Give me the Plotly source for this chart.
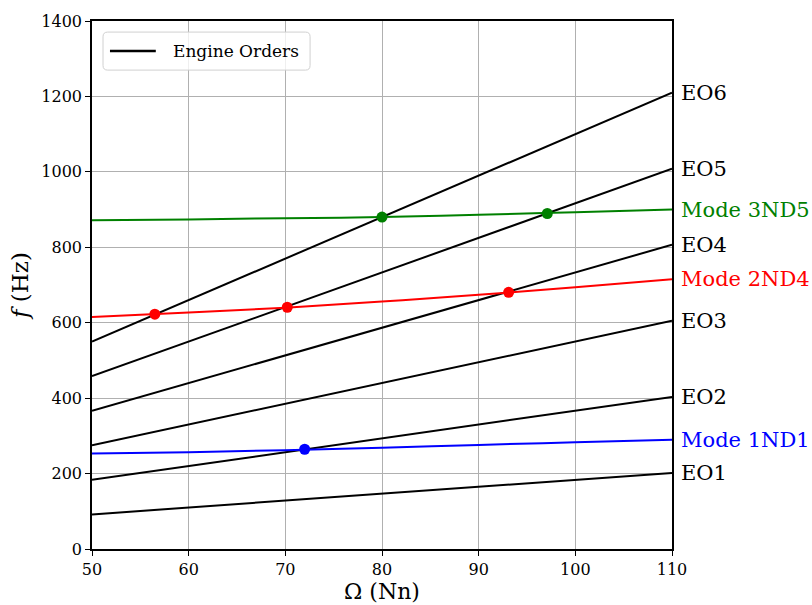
import plotly.graph_objects as go

# Engine order lines (frequency at Omega = 50 and 110)
eo_names = ["EO1", "EO2", "EO3", "EO4", "EO5", "EO6"]
eo_omega = [50, 110]
eo_start = [91.7, 183.3, 275.0, 366.7, 458.3, 550.0]
eo_end = [201.7, 403.3, 605.0, 806.7, 1008.3, 1210.0]

# Mode lines
mode_omega = [50, 60, 70, 80, 90, 100, 110]
mode_1nd1 = [253, 256.5, 262, 268.5, 276, 283, 290]
mode_2nd4 = [615, 627, 640, 656, 674, 694, 715]
mode_3nd5 = [872, 874, 877, 880, 886, 893, 900]

# Crossing points
cross_1nd1_x = [72.0]
cross_1nd1_y = [264.5]
cross_2nd4_x = [56.5, 70.2, 93.1]
cross_2nd4_y = [622.7, 641.0, 680.5]
cross_3nd5_x = [80.0, 97.1]
cross_3nd5_y = [880.0, 889.6]

legend_label = "Engine Orders"

FONT = "DejaVu Serif"

fig = go.Figure()

for i, name in enumerate(eo_names):
    fig.add_trace(go.Scatter(
        x=eo_omega, y=[eo_start[i], eo_end[i]], mode="lines",
        line=dict(color="black", width=2),
        name=legend_label, showlegend=False, hoverinfo="skip"))

modes = [
    ("Mode 1ND1", mode_1nd1, cross_1nd1_x, cross_1nd1_y, "#0000ff"),
    ("Mode 2ND4", mode_2nd4, cross_2nd4_x, cross_2nd4_y, "#ff0000"),
    ("Mode 3ND5", mode_3nd5, cross_3nd5_x, cross_3nd5_y, "#008000"),
]
for name, vals, cx, cy, col in modes:
    fig.add_trace(go.Scatter(x=mode_omega, y=vals, mode="lines",
                             line=dict(color=col, width=2), showlegend=False,
                             line_shape="spline", name=name))
    fig.add_trace(go.Scatter(x=cx, y=cy, mode="markers",
                             marker=dict(color=col, size=11), showlegend=False))

annotations = []
for i, name in enumerate(eo_names):
    annotations.append(dict(x=1, xref="paper", y=eo_end[i], yref="y", text=name,
                            showarrow=False, xanchor="left", xshift=7,
                            font=dict(family=FONT, size=21, color="black")))
for name, vals, cx, cy, col in modes:
    annotations.append(dict(x=1, xref="paper", y=vals[-1], yref="y", text=name,
                            showarrow=False, xanchor="left", xshift=7,
                            font=dict(family=FONT, size=21, color=col)))

# manual legend (paper coordinates)
annotations.append(dict(x=0.136, y=0.943, xref="paper", yref="paper", text=legend_label,
                        showarrow=False, xanchor="left", yanchor="middle",
                        font=dict(family=FONT, size=17, color="black")))
lx0, lx1, ly0, ly1, r = 0.019, 0.376, 0.907, 0.979, 0.008
ry = r * 580 / 528
legend_path = (f"M {lx0+r},{ly0} L {lx1-r},{ly0} Q {lx1},{ly0} {lx1},{ly0+ry} "
               f"L {lx1},{ly1-ry} Q {lx1},{ly1} {lx1-r},{ly1} L {lx0+r},{ly1} "
               f"Q {lx0},{ly1} {lx0},{ly1-ry} L {lx0},{ly0+ry} Q {lx0},{ly0} {lx0+r},{ly0} Z")
shapes = [
    dict(type="path", xref="paper", yref="paper", path=legend_path,
         fillcolor="rgba(255,255,255,0.8)", line=dict(color="#d0d0d0", width=1), layer="above"),
    dict(type="line", xref="paper", yref="paper", x0=0.031, x1=0.110, y0=0.943, y1=0.943,
         line=dict(color="black", width=2.5), layer="above"),
]

axis_common = dict(showgrid=True, gridcolor="#b0b0b0", gridwidth=1,
                   showline=True, linecolor="black", linewidth=1.5, mirror=True,
                   ticks="outside", ticklen=5, tickcolor="black",
                   tickfont=dict(family=FONT, size=16, color="black"),
                   zeroline=False, automargin=False)

fig.update_layout(
    width=812, height=605,
    margin=dict(l=92, r=140, t=21, b=56),
    plot_bgcolor="white", paper_bgcolor="white",
    font=dict(family=FONT, color="black"),
    xaxis=dict(range=[50, 110], dtick=10,
               title=dict(text="Ω (Nn)", font=dict(family=FONT, size=22), standoff=0),
               **axis_common),
    yaxis=dict(range=[0, 1400], dtick=200,
               title=dict(text="<i>f</i> (Hz)", font=dict(family=FONT, size=23), standoff=6),
               **axis_common),
    annotations=annotations,
    shapes=shapes,
    showlegend=False,
)

fig.write_html("out.html", config={"displayModeBar": False})

# remove the default body margin so the figure sits at the page origin
with open("out.html", "r", encoding="utf-8") as fh:
    html = fh.read()
html = html.replace("<head>", "<head><style>html,body{margin:0;padding:0;overflow:hidden;}</style>", 1)
with open("out.html", "w", encoding="utf-8") as fh:
    fh.write(html)
